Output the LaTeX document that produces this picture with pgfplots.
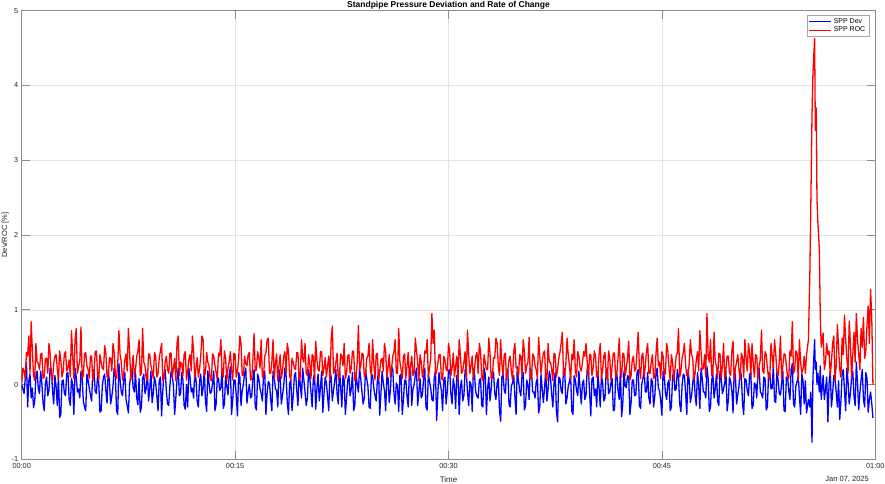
\documentclass[border=0pt]{standalone}
\usepackage{fontspec}
\setmainfont{Liberation Sans}
\usepackage{pgfplots}
\usepackage{pgfplotstable}
\pgfplotsset{compat=1.18}
\definecolor{axgray}{RGB}{140,140,140}
\definecolor{gridgray}{RGB}{228,228,228}
\definecolor{labgray}{RGB}{38,38,38}
\definecolor{devblue}{RGB}{0,0,255}
\definecolor{rocred}{RGB}{255,0,0}

\pgfplotstableread{
t d r
0 0.00 0.00
5 -0.06 0.22
10 -0.12 0.18
15 0.08 0.08
20 0.30 0.43
25 -0.30 0.38
30 0.05 0.65
35 0.14 0.15
40 -0.18 0.84
45 -0.05 0.45
50 -0.31 0.12
55 -0.22 0.05
60 0.10 0.55
65 0.18 0.30
70 -0.05 0.28
75 -0.12 0.20
80 0.18 0.40
85 0.02 0.42
90 -0.24 0.08
95 -0.35 0.10
100 0.02 0.35
105 0.10 0.35
110 -0.15 0.15
115 -0.08 0.55
120 0.22 0.42
125 0.20 0.12
130 -0.08 0.05
135 -0.26 0.28
140 0.12 0.38
145 -0.02 0.40
150 -0.28 0.22
155 0.12 0.06
160 -0.44 0.45
165 -0.40 0.33
170 0.05 0.10
175 0.06 0.18
180 -0.12 0.41
185 -0.15 0.44
190 0.15 0.18
195 0.16 0.22
200 -0.20 0.33
205 -0.28 0.10
210 0.08 0.72
215 0.00 0.38
220 -0.40 0.08
225 0.22 0.60
230 0.10 0.75
235 -0.10 0.15
240 -0.06 0.25
245 -0.18 0.30
250 0.18 0.77
255 0.08 0.08
260 -0.22 0.12
265 -0.30 0.41
270 -0.35 0.43
275 0.14 0.25
280 0.06 0.20
285 -0.05 0.08
290 -0.14 0.38
295 -0.22 0.38
300 0.20 0.05
305 0.18 0.15
310 -0.09 0.44
315 -0.12 0.45
320 0.12 0.15
325 0.02 0.05
330 -0.37 0.40
335 -0.35 0.30
340 -0.02 0.22
345 0.10 0.20
350 0.14 0.52
355 -0.08 0.42
360 -0.25 0.10
365 0.20 0.10
370 0.04 0.36
375 -0.26 0.35
380 -0.16 0.18
385 -0.02 0.55
390 0.22 0.43
395 0.12 0.12
400 -0.35 0.08
405 -0.40 0.28
410 0.28 0.72
415 0.06 0.40
420 -0.10 0.30
425 -0.15 0.06
430 0.06 0.14
435 0.16 0.33
440 -0.20 0.41
445 -0.28 0.18
450 -0.38 0.75
455 0.00 0.44
460 0.12 0.06
465 0.22 0.22
470 -0.04 0.39
475 -0.10 0.10
480 0.16 0.20
485 -0.18 0.38
490 -0.27 0.44
495 0.08 0.60
500 -0.37 0.12
505 -0.30 0.15
510 0.08 0.75
515 0.14 0.30
520 -0.12 0.25
525 -0.05 0.08
530 0.20 0.05
535 -0.22 0.41
540 -0.06 0.40
545 0.18 0.25
550 -0.24 0.18
555 -0.12 0.08
560 0.10 0.43
565 0.02 0.38
570 -0.15 0.10
575 -0.35 0.15
580 0.05 0.35
585 0.10 0.45
590 -0.42 0.55
595 -0.08 0.05
600 0.14 0.08
605 0.20 0.30
610 -0.08 0.38
615 -0.26 0.20
620 -0.28 0.15
625 -0.02 0.42
630 0.18 0.42
635 0.12 0.10
640 -0.02 0.22
645 -0.40 0.35
650 -0.18 0.05
655 0.06 0.55
660 0.22 0.65
665 -0.15 0.12
670 -0.12 0.30
675 0.16 0.28
680 0.06 0.12
685 -0.28 0.40
690 -0.33 0.44
695 0.00 0.06
700 -0.30 0.18
705 0.22 0.33
710 0.10 0.40
715 -0.10 0.18
720 -0.05 0.65
725 -0.18 0.44
730 0.16 0.08
735 0.08 0.22
740 -0.22 0.36
745 -0.30 0.10
750 0.04 0.20
755 0.14 0.38
760 -0.15 0.65
765 -0.05 0.60
770 0.20 0.12
775 -0.22 0.15
780 -0.36 0.43
785 0.18 0.30
790 0.02 0.25
795 -0.12 0.08
800 -0.10 0.05
805 0.02 0.41
810 0.18 0.38
815 -0.35 0.25
820 -0.26 0.16
825 0.10 0.08
830 0.08 0.42
835 -0.08 0.38
840 -0.04 0.60
845 0.20 0.15
850 -0.32 0.10
855 -0.26 0.45
860 0.12 0.35
865 -0.02 0.05
870 -0.14 0.22
875 0.12 0.30
880 0.24 0.44
885 -0.40 0.20
890 -0.20 0.06
895 0.06 0.42
900 0.06 0.40
905 -0.15 0.10
910 -0.42 0.18
915 0.16 0.35
920 0.10 0.65
925 -0.28 0.55
930 -0.08 0.12
935 0.00 0.12
940 0.15 0.38
945 0.22 0.28
950 -0.25 0.25
955 -0.10 0.40
960 0.00 0.43
965 -0.18 0.06
970 -0.16 0.08
975 0.08 0.33
980 0.20 0.68
985 -0.30 0.18
990 -0.34 0.20
995 0.14 0.44
1000 0.08 0.36
1005 -0.05 0.22
1010 -0.12 0.60
1015 -0.22 0.10
1020 0.14 0.10
1025 0.18 0.38
1030 -0.40 0.42
1035 -0.12 0.60
1040 0.04 0.62
1045 0.02 0.15
1050 -0.20 0.15
1055 -0.35 0.30
1060 0.18 0.60
1065 0.10 0.08
1070 -0.06 0.28
1075 -0.08 0.41
1080 -0.30 0.05
1085 0.20 0.25
1090 0.10 0.40
1095 -0.26 0.08
1100 -0.14 0.18
1105 -0.02 0.38
1110 0.22 0.44
1115 0.12 0.15
1120 -0.24 0.55
1125 -0.40 0.45
1130 0.02 0.12
1135 0.06 0.05
1140 -0.35 0.35
1145 -0.15 0.30
1150 0.12 0.22
1155 0.16 0.20
1160 -0.08 0.43
1165 -0.28 0.42
1170 0.16 0.06
1175 0.00 0.10
1180 -0.18 0.60
1185 0.22 0.35
1190 0.06 0.30
1195 -0.10 0.55
1200 -0.28 0.15
1205 -0.18 0.12
1210 0.20 0.40
1215 0.08 0.28
1220 -0.10 0.08
1225 -0.30 0.40
1230 0.08 0.38
1235 0.14 0.06
1240 -0.33 0.58
1245 -0.05 0.33
1250 0.14 0.20
1255 -0.22 0.18
1260 -0.04 0.44
1265 0.18 0.44
1270 -0.37 0.12
1275 -0.12 0.22
1280 0.10 0.36
1285 0.02 0.10
1290 -0.16 0.25
1295 -0.35 0.38
1300 0.18 0.05
1305 0.10 0.60
1310 -0.22 0.78
1315 -0.08 0.15
1320 0.04 0.18
1325 0.20 0.30
1330 -0.12 0.42
1335 -0.26 0.08
1340 0.22 0.10
1345 -0.02 0.41
1350 -0.30 0.38
1355 0.12 0.25
1360 0.06 0.55
1365 -0.40 0.08
1370 -0.18 0.15
1375 0.06 0.38
1380 0.12 0.40
1385 -0.15 0.15
1390 -0.06 0.22
1395 0.16 0.45
1400 -0.35 0.44
1405 -0.28 0.05
1410 0.16 0.08
1415 0.00 0.30
1420 -0.10 0.79
1425 0.22 0.20
1430 0.08 0.25
1435 -0.10 0.42
1440 -0.26 0.40
1445 -0.18 0.10
1450 0.20 0.12
1455 0.08 0.35
1460 -0.02 0.38
1465 -0.30 0.55
1470 -0.32 0.20
1475 0.14 0.12
1480 0.12 0.60
1485 -0.05 0.28
1490 -0.15 0.06
1495 -0.22 0.40
1500 0.05 0.42
1505 0.18 0.06
1510 -0.41 0.18
1515 -0.12 0.33
1520 0.18 0.35
1525 0.02 0.18
1530 -0.08 0.55
1535 -0.35 0.44
1540 0.10 0.10
1545 0.10 0.22
1550 -0.24 0.40
1555 -0.08 0.10
1560 0.24 0.22
1565 0.20 0.38
1570 -0.12 0.44
1575 -0.26 0.60
1580 0.02 0.15
1585 -0.02 0.15
1590 -0.36 0.75
1595 0.12 0.30
1600 0.14 0.20
1605 -0.40 0.08
1610 -0.20 0.38
1615 0.06 0.41
1620 0.06 0.08
1625 -0.15 0.25
1630 -0.30 0.43
1635 0.16 0.08
1640 0.20 0.25
1645 -0.28 0.38
1650 -0.06 0.12
1655 0.00 0.15
1660 0.12 0.62
1665 0.22 0.45
1670 -0.28 0.30
1675 -0.10 0.05
1680 0.08 0.40
1685 -0.18 0.30
1690 -0.14 0.10
1695 0.08 0.20
1700 0.22 0.45
1705 -0.30 0.42
1710 -0.34 0.60
1715 0.14 0.10
1720 0.04 0.22
1725 -0.05 0.35
1730 -0.20 0.95
1735 -0.22 0.55
1740 0.10 0.73
1745 0.18 0.12
1750 -0.48 0.18
1755 -0.12 0.28
1760 0.16 0.40
1765 0.02 0.40
1770 -0.08 0.08
1775 -0.35 0.06
1780 0.06 0.38
1785 0.10 0.33
1790 -0.26 0.20
1795 -0.08 0.18
1800 0.18 0.55
1805 0.20 0.44
1810 -0.12 0.12
1815 -0.26 0.22
1820 0.08 0.42
1825 -0.02 0.10
1830 -0.32 0.25
1835 0.12 0.38
1840 0.14 0.05
1845 -0.40 0.60
1850 -0.04 0.40
1855 0.06 0.15
1860 -0.22 0.18
1865 -0.15 0.30
1870 0.20 0.44
1875 0.16 0.08
1880 -0.10 0.73
1885 -0.28 0.41
1890 0.04 0.15
1895 0.00 0.25
1900 -0.36 0.38
1905 0.22 0.08
1910 0.12 0.22
1915 -0.10 0.38
1920 -0.16 0.43
1925 -0.18 0.15
1930 0.06 0.55
1935 0.08 0.45
1940 -0.28 0.10
1945 -0.30 0.05
1950 0.22 0.40
1955 0.14 0.30
1960 -0.40 0.20
1965 -0.05 0.20
1970 0.10 0.62
1975 -0.22 0.42
1980 -0.06 0.08
1985 0.18 0.10
1990 0.16 0.36
1995 -0.12 0.35
2000 -0.20 0.62
2005 0.02 0.55
2010 0.08 0.25
2015 -0.35 0.12
2020 -0.49 0.60
2025 0.10 0.28
2030 0.14 0.12
2035 -0.08 0.40
2040 -0.12 0.42
2045 0.20 0.06
2050 0.20 0.18
2055 -0.26 0.33
2060 -0.30 0.38
2065 -0.02 0.18
2070 0.02 0.06
2075 0.12 0.44
2080 -0.16 0.55
2085 -0.40 0.22
2090 0.24 0.22
2095 0.06 0.10
2100 -0.08 0.40
2105 -0.15 0.38
2110 0.12 0.12
2115 0.16 0.60
2120 -0.34 0.44
2125 -0.28 0.15
2130 0.06 0.25
2135 0.00 0.30
2140 -0.20 0.63
2145 0.22 0.08
2150 0.18 0.08
2155 -0.10 0.41
2160 -0.10 0.38
2165 -0.18 0.25
2170 0.04 0.20
2175 0.08 0.08
2180 -0.38 0.63
2185 -0.30 0.38
2190 0.14 0.15
2195 -0.05 0.30
2200 -0.24 0.42
2205 -0.05 0.45
2210 0.20 0.10
2215 -0.22 0.05
2220 -0.06 0.55
2225 0.18 0.30
2230 0.10 0.30
2235 -0.12 0.20
2240 -0.30 0.05
2245 0.02 0.42
2250 0.16 0.40
2255 -0.35 0.10
2260 -0.50 0.20
2265 0.10 0.35
2270 0.08 0.43
2275 -0.08 0.55
2280 -0.12 0.70
2285 0.20 0.12
2290 0.22 0.12
2295 -0.26 0.28
2300 -0.18 0.62
2305 -0.02 0.40
2310 0.04 0.25
2315 0.12 0.06
2320 -0.36 0.40
2325 -0.40 0.33
2330 0.12 0.60
2335 0.06 0.18
2340 -0.08 0.10
2345 -0.15 0.44
2350 0.18 0.38
2355 -0.05 0.22
2360 -0.26 0.18
2365 0.02 0.30
2370 0.06 0.44
2375 -0.20 0.38
2380 -0.14 0.55
2385 0.22 0.30
2390 0.20 0.08
2395 -0.10 0.40
2400 -0.42 0.40
2405 0.08 0.12
2410 0.10 0.22
2415 -0.15 0.45
2420 -0.06 0.38
2425 -0.30 0.10
2430 0.16 0.12
2435 -0.05 0.40
2440 -0.30 0.55
2445 0.12 0.08
2450 0.02 0.20
2455 -0.22 0.38
2460 -0.18 0.43
2465 0.18 0.15
2470 0.22 0.06
2475 -0.12 0.45
2480 -0.10 0.36
2485 0.02 0.05
2490 0.08 0.25
2495 -0.35 0.42
2500 -0.34 0.42
2505 0.10 0.10
2510 0.14 0.15
2515 -0.08 0.35
2520 -0.20 0.62
2525 0.20 0.20
2530 -0.43 0.10
2535 -0.26 0.42
2540 0.18 0.40
2545 -0.02 0.12
2550 -0.04 0.22
2555 0.12 0.35
2560 0.10 0.58
2565 -0.40 0.06
2570 -0.24 0.12
2575 0.06 0.33
2580 0.06 0.38
2585 -0.15 0.18
2590 -0.14 0.20
2595 0.16 0.44
2600 0.20 0.70
2605 -0.28 0.22
2610 -0.32 0.08
2615 0.00 0.38
2620 0.08 0.42
2625 0.22 0.10
2630 -0.10 0.25
2635 -0.10 0.45
2640 0.16 0.55
2645 -0.18 0.15
2650 -0.26 0.15
2655 0.08 0.30
2660 0.04 0.40
2665 -0.30 0.08
2670 -0.16 0.10
2675 0.14 0.41
2680 0.22 0.62
2685 -0.05 0.25
2690 -0.08 0.30
2695 -0.22 0.08
2700 -0.41 0.44
2705 0.18 0.38
2710 0.12 0.12
2715 -0.12 0.15
2720 -0.20 0.55
2725 0.02 0.45
2730 0.06 0.22
2735 -0.35 0.05
2740 -0.30 0.40
2745 0.10 0.30
2750 0.18 0.06
2755 -0.08 0.20
2760 -0.06 0.38
2765 0.20 0.42
2770 0.10 0.75
2775 -0.26 0.10
2780 -0.36 0.18
2785 -0.02 0.35
2790 0.14 0.42
2795 0.12 0.55
2800 -0.12 0.25
2805 -0.40 0.12
2810 0.20 0.10
2815 0.06 0.28
2820 -0.24 0.60
2825 -0.15 0.40
2830 0.02 0.35
2835 0.16 0.06
2840 -0.14 0.15
2845 -0.28 0.33
2850 0.16 0.44
2855 0.00 0.18
2860 -0.32 0.72
2865 0.22 0.44
2870 0.08 0.20
2875 -0.10 0.22
2880 -0.10 0.40
2885 -0.18 0.10
2890 0.24 0.95
2895 0.08 0.38
2900 -0.36 0.30
2905 -0.30 0.60
2910 0.06 0.12
2915 0.14 0.15
2920 -0.18 0.70
2925 -0.05 0.30
2930 0.14 0.25
2935 -0.22 0.08
2940 -0.28 0.42
2945 0.18 0.41
2950 0.10 0.08
2955 -0.12 0.25
2960 -0.06 0.55
2965 0.02 0.08
2970 0.18 0.20
2975 -0.35 0.38
2980 -0.22 0.38
2985 0.10 0.15
2990 0.04 0.12
2995 -0.08 0.45
3000 -0.38 0.58
3005 0.20 0.05
3010 0.12 0.22
3015 -0.26 0.30
3020 -0.14 0.40
3025 -0.02 0.20
3030 0.20 0.06
3035 0.12 0.42
3040 -0.26 0.36
3045 -0.40 0.10
3050 0.08 0.60
3055 0.06 0.35
3060 -0.08 0.18
3065 -0.15 0.55
3070 0.14 0.42
3075 0.16 0.12
3080 -0.32 0.55
3085 -0.28 0.28
3090 0.02 0.10
3095 0.00 0.40
3100 -0.18 0.38
3105 0.22 0.06
3110 0.22 0.25
3115 -0.10 0.33
3120 -0.12 0.73
3125 -0.18 0.18
3130 0.10 0.15
3135 0.08 0.44
3140 -0.34 0.40
3145 -0.30 0.22
3150 0.16 0.08
3155 0.14 0.10
3160 -0.06 0.55
3165 -0.05 0.38
3170 0.26 0.22
3175 -0.22 0.60
3180 -0.24 0.42
3185 0.18 0.15
3190 0.06 0.12
3195 -0.12 0.30
3200 -0.14 0.65
3205 0.02 0.08
3210 0.18 0.25
3215 -0.35 0.41
3220 -0.36 0.40
3225 0.10 0.25
3230 0.10 0.10
3235 -0.08 0.08
3240 -0.20 0.45
3245 0.20 0.38
3250 0.28 0.84
3255 -0.26 0.15
3260 -0.30 0.20
3265 -0.02 0.45
3270 0.04 0.42
3275 0.12 0.05
3280 -0.16 0.60
3285 -0.40 0.30
3290 0.14 0.15
3295 0.06 0.20
3300 -0.26 0.38
3305 0.05 0.15
3310 -0.38 0.40
3318 -0.20 0.60
3324 -0.30 1.50
3328 -0.10 2.40
3333 -0.77 3.60
3337 0.10 4.16
3344 0.60 4.63
3347 0.20 3.40
3351 0.30 3.70
3354 0.00 2.47
3358 0.15 2.16
3364 -0.10 1.80
3368 0.25 0.90
3372 -0.20 0.50
3380 0.12 0.69
3385 -0.20 0.20
3390 -0.06 0.30
3395 0.10 0.55
3400 -0.50 0.40
3405 0.02 0.45
3410 0.18 0.12
3415 -0.30 0.30
3420 -0.12 0.55
3425 0.12 0.65
3430 0.08 0.05
3435 -0.10 0.25
3440 -0.30 0.80
3445 0.05 0.50
3450 -0.47 0.20
3455 -0.22 0.10
3460 0.14 0.62
3465 0.20 0.40
3470 -0.08 0.93
3475 -0.35 0.60
3480 0.22 0.35
3485 0.04 0.15
3490 -0.26 0.85
3495 -0.12 0.55
3500 0.10 0.08
3505 0.18 0.40
3510 -0.16 0.70
3515 -0.28 0.30
3520 0.30 0.95
3525 0.02 0.60
3530 -0.34 0.40
3535 -0.10 0.20
3540 0.06 0.75
3545 0.20 0.50
3550 -0.20 0.90
3555 -0.30 0.35
3560 0.16 0.45
3565 0.08 0.80
3570 -0.37 1.05
3575 -0.20 0.55
3580 -0.10 1.27
3585 -0.25 0.90
3590 -0.45 0.00
}\data

\begin{document}
\begin{tikzpicture}
\path[use as bounding box] (-21.7pt,-23.7pt) rectangle (863.3pt,459.3pt);
\begin{axis}[
  scale only axis,
  width=853.6pt, height=448.6pt,
  xmin=0, xmax=3600, ymin=-1, ymax=5,
  clip mode=individual,
  xtick={0,900,1800,2700,3600},
  xticklabels={00:00,00:15,00:30,00:45,01:00},
  ytick={-1,0,1,2,3,4,5},
  yticklabels={-1,0,1,2,3,4,5},
  tick align=inside,
  major tick length=8pt,
  axis line style={axgray, line width=0.6pt},
  every tick/.style={axgray, line width=0.6pt},
  grid=major,
  major grid style={gridgray, line width=0.5pt},
  tick label style={font=\fontsize{7.3}{8}\selectfont, text=labgray},
  xticklabel style={yshift=-0.5pt},
  xlabel={Time},
  xlabel style={font=\fontsize{8}{9}\selectfont, text=labgray, at={(axis description cs:0.5,0)}, anchor=center, yshift=-20pt},
  ylabel={Dev/ROC [\%]},
  ylabel style={font=\fontsize{7.5}{9}\selectfont, text=labgray, at={(axis description cs:-0.0193,0.5)}, anchor=center},
  every axis title shift=0pt,
  title={Standpipe Pressure Deviation and Rate of Change},
  title style={font=\bfseries\fontsize{8.5}{10}\selectfont, at={(axis description cs:0.5,1)}, anchor=base, yshift=3.5pt},
  legend style={at={(rel axis cs:0.9926,0.9904)}, anchor=north east, draw=black!35, fill=white,
    font=\fontsize{7}{8}\selectfont, inner xsep=1.5pt, inner ysep=1pt, row sep=-1.5pt,
    cells={anchor=west}},
  legend image code/.code={\draw[#1, line width=1.3pt] (0pt,0pt) -- (22pt,0pt);},
  every axis plot/.append style={line width=1.3pt, line join=round},
]
\addplot[draw=devblue, forget plot] table[x=t, y=d]{\data};
\addplot[draw=rocred, forget plot] table[x=t, y=r]{\data};
\addlegendimage{color=devblue, draw=devblue}
\addlegendentry{SPP Dev}
\addlegendimage{color=rocred, draw=rocred}
\addlegendentry{SPP ROC}
\node[anchor=east, font=\fontsize{7.5}{9}\selectfont, text=labgray, inner sep=0pt] at (rel axis cs:0.9926,-0.0439) {Jan 07, 2025};
\end{axis}
\end{tikzpicture}
\end{document}
